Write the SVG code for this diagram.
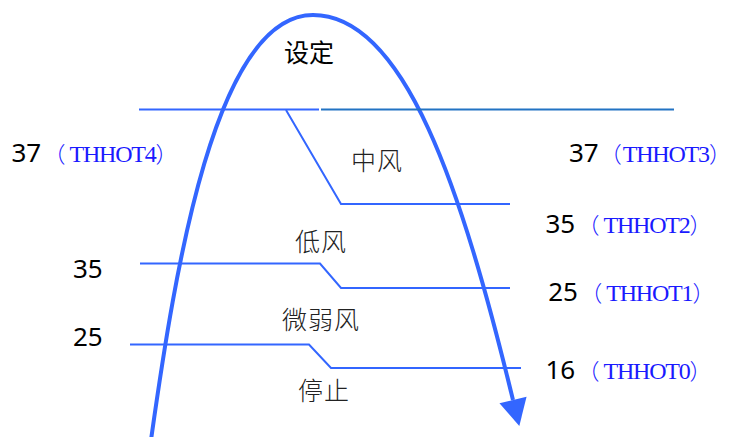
<svg xmlns="http://www.w3.org/2000/svg" width="731" height="437" viewBox="0 0 731 437">
<style>
.bg{fill:#ffffff}
.curve{fill:none;stroke:#3366ff;stroke-width:4}
.thin{fill:none;stroke:#3366ff;stroke-width:2}
.thin2{fill:none;stroke:#2273c3;stroke-width:2}
.num{font-family:"Noto Sans","DejaVu Sans",sans-serif;font-size:26px;fill:#000}
.code{font-family:"Liberation Serif",serif;font-size:24px;letter-spacing:-1.2px;fill:#1a1aff}
.par{font-family:"Noto Sans CJK SC",sans-serif;font-size:22px;font-weight:300;fill:#1a1aff}
.zone{font-family:"Liberation Serif","Noto Sans CJK SC",sans-serif;font-size:25px;font-weight:300;fill:#222;text-anchor:middle;letter-spacing:1px}
.title{font-family:"Noto Sans CJK SC",sans-serif;font-size:25px;fill:#000;text-anchor:middle}
</style>
<defs>
<marker id="arr" markerUnits="userSpaceOnUse" markerWidth="30" markerHeight="30" viewBox="0 -14 26 28" refX="0" refY="0" orient="auto">
<path d="M0,-13 L25,0 L0,13 Z" fill="#3366ff"/>
</marker>
</defs>
<rect class="bg" x="0" y="0" width="731" height="437"/>
<g id="connectors">
<path class="curve" d="M151,440 C175,270 215,15 313,15 C405,15 462,190 513,400" marker-end="url(#arr)"/>
<path class="thin" d="M139,109.5 L319,109.5"/>
<path class="thin2" d="M321,109.5 L674,109.5"/>
<path class="thin" d="M286,110 L341,204 L510,204"/>
<path class="thin" d="M140,263.5 L320,263.5 L341,288 L510,288"/>
<path class="thin" d="M130,344.5 L309,344.5 L331,368 L521,368"/>
</g>
<g id="title-set"><text class="title" x="309" y="62">设定</text></g>
<g id="zone-mid"><text class="zone" x="377" y="170">中风</text></g>
<g id="zone-low"><text class="zone" x="321" y="251">低风</text></g>
<g id="zone-weak"><text class="zone" x="321" y="329">微弱风</text></g>
<g id="zone-stop"><text class="zone" x="324" y="400">停止</text></g>
<g id="label-thhot4">
<text x="11.4" y="162"><tspan class="num">37</tspan><tspan class="par" dx="2.3">（</tspan><tspan class="code" dx="4">THHOT4</tspan><tspan class="par">）</tspan></text>
</g>
<g id="label-thhot3">
<text x="569" y="162"><tspan class="num">37</tspan><tspan class="par" dx="1">（</tspan><tspan class="code" dx="1">THHOT3</tspan><tspan class="par">）</tspan></text>
</g>
<g id="label-thhot2">
<text x="545.4" y="233"><tspan class="num">35</tspan><tspan class="par" dx="2.3">（</tspan><tspan class="code" dx="4">THHOT2</tspan><tspan class="par">）</tspan></text>
</g>
<g id="label-thhot1">
<text x="548.2" y="301"><tspan class="num">25</tspan><tspan class="par" dx="2.3">（</tspan><tspan class="code" dx="4">THHOT1</tspan><tspan class="par">）</tspan></text>
</g>
<g id="label-thhot0">
<text x="545.4" y="378.5"><tspan class="num">16</tspan><tspan class="par" dx="2.3">（</tspan><tspan class="code" dx="4">THHOT0</tspan><tspan class="par">）</tspan></text>
</g>
<g id="label-35"><text class="num" x="73" y="278">35</text></g>
<g id="label-25"><text class="num" x="73" y="346">25</text></g>
</svg>
